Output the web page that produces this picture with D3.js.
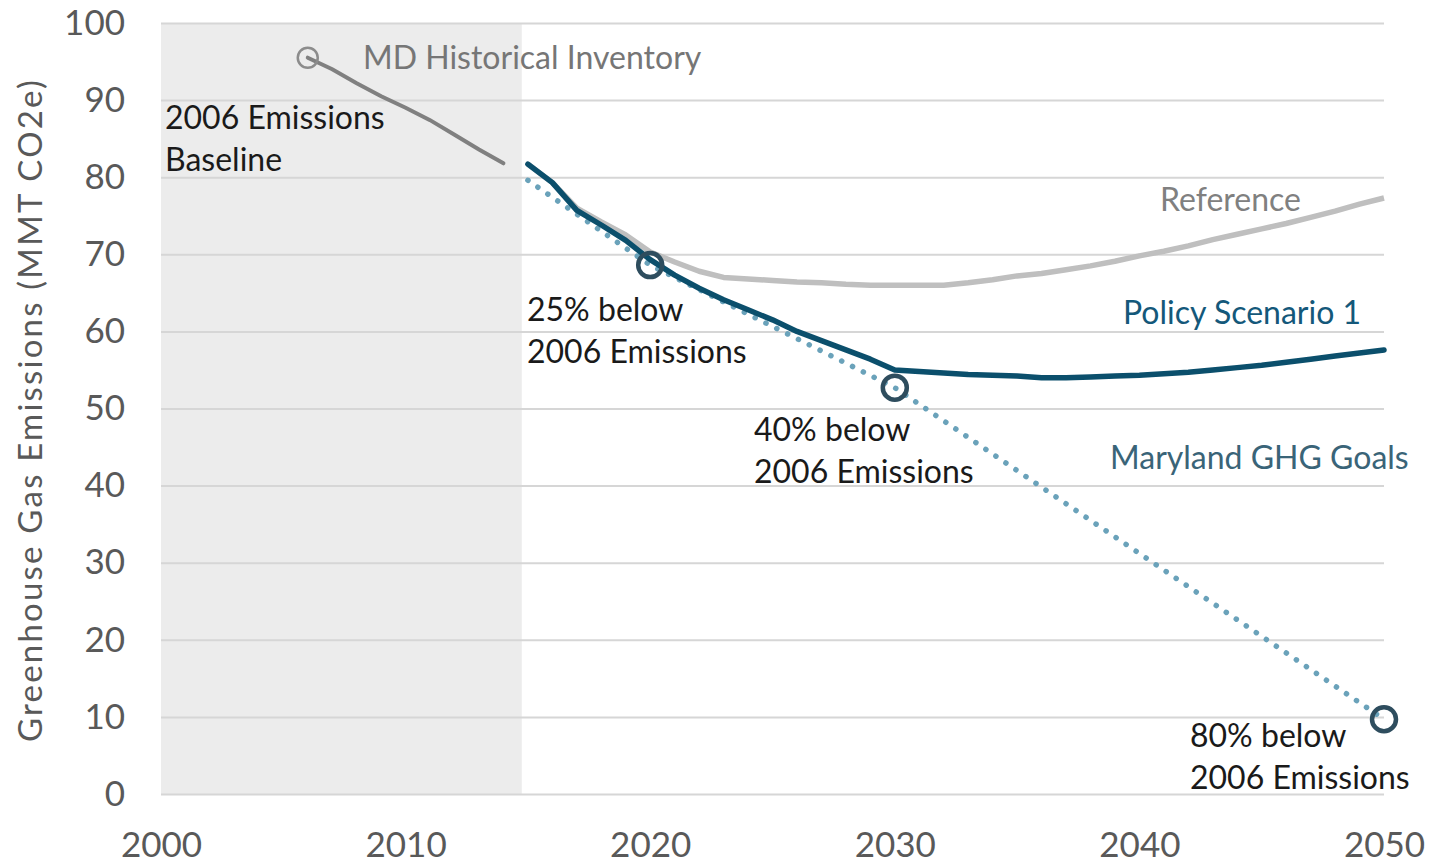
<!DOCTYPE html>
<html>
<head>
<meta charset="utf-8">
<script src="https://cdn.jsdelivr.net/npm/d3@7"></script>
<style>
  body { margin: 0; background: #fff; }
  svg text { font-family: Lato, "Open Sans", sans-serif; }
</style>
</head>
<body>
<div id="chart"></div>
<script>
// values (MMT CO2e)
var histYears = [2006, 2007, 2008, 2009, 2010, 2011, 2012, 2013, 2014];
var histValues = [95.5, 94.0, 92.2, 90.5, 89.0, 87.4, 85.5, 83.6, 81.8];

var projYears = d3.range(2015, 2051);
var referenceValues = [81.7, 79.3, 76.0, 74.2, 72.5, 70.3, 69.0, 67.8, 67.0, 66.8,
    66.6, 66.4, 66.3, 66.1, 66.0, 66.0, 66.0, 66.0, 66.3, 66.7,
    67.2, 67.5, 68.0, 68.5, 69.1, 69.8, 70.4, 71.1, 71.9, 72.6,
    73.3, 74.0, 74.8, 75.6, 76.5, 77.3];
var policyValues = [81.7, 79.3, 75.7, 73.8, 71.8, 69.3, 67.3, 65.6, 64.1, 62.8,
    61.5, 60.0, 58.8, 57.6, 56.4, 55.0, 54.8, 54.6, 54.4, 54.3,
    54.2, 54.0, 54.0, 54.1, 54.2, 54.3, 54.5, 54.7, 55.0, 55.3,
    55.6, 56.0, 56.4, 56.8, 57.2, 57.6];

var goalYears = [2015, 2020, 2030, 2050];
var goalValues = [79.6, 68.6, 52.7, 9.7];
var goalMarkerYears = [2020, 2030, 2050];

var historicalEnd = 2014.75;
var xTicks = [2000, 2010, 2020, 2030, 2040, 2050];
var yTicks = [0, 10, 20, 30, 40, 50, 60, 70, 80, 90, 100];

var W = 1431, H = 865;
var margin = { top: 23, right: 47, bottom: 71, left: 161 };
var width = W - margin.left - margin.right,
    height = H - margin.top - margin.bottom;

var svg = d3.select("#chart")
    .append("svg")
    .attr("width", W)
    .attr("height", H);
var g = svg.append("g")
    .attr("transform", "translate(" + margin.left + "," + margin.top + ")");

var x = d3.scaleLinear().domain([2000, 2050]).range([0, width]);
var y = d3.scaleLinear().domain([0, 100]).range([height, 0]);

// shaded historical period
g.append("rect")
    .attr("x", x(2000))
    .attr("y", y(100))
    .attr("width", x(historicalEnd) - x(2000))
    .attr("height", y(0) - y(100))
    .attr("fill", "#ececec");

// gridlines
var yAxis = d3.axisLeft(y).tickValues(yTicks).tickSize(-width).tickPadding(36);
g.append("g")
    .attr("class", "y axis")
    .call(yAxis)
    .call(a => a.select(".domain").remove())
    .call(a => a.selectAll("line").attr("stroke", "#d6d6d6").attr("stroke-width", 2))
    .call(a => a.selectAll("text").attr("fill", "#595959").attr("font-size", 35));

var xAxis = d3.axisBottom(x).tickValues(xTicks).tickFormat(d3.format("d")).tickSize(0).tickPadding(38);
g.append("g")
    .attr("class", "x axis")
    .attr("transform", "translate(0," + height + ")")
    .call(xAxis)
    .call(a => a.select(".domain").remove())
    .call(a => a.selectAll("text").attr("fill", "#595959").attr("font-size", 35));

svg.append("text")
    .attr("transform", "translate(42," + 410 + ") rotate(-90)")
    .attr("text-anchor", "middle")
    .attr("fill", "#595959")
    .attr("font-size", 33)
    .attr("letter-spacing", 2.2)
    .text("Greenhouse Gas Emissions (MMT CO2e)");

var line = d3.line()
    .x(d => x(d[0]))
    .y(d => y(d[1]));

// goals dotted line
g.append("path")
    .datum(d3.zip(goalYears, goalValues))
    .attr("fill", "none")
    .attr("stroke", "#6aa2ba")
    .attr("stroke-width", 5.5)
    .attr("stroke-linecap", "round")
    .attr("stroke-dasharray", "0.1 12")
    .attr("d", line);

// reference
g.append("path")
    .datum(d3.zip(projYears, referenceValues))
    .attr("fill", "none")
    .attr("stroke", "#bfbfbf")
    .attr("stroke-width", 5.5)
    .attr("stroke-linejoin", "round")
    .attr("d", line);

// policy scenario 1
g.append("path")
    .datum(d3.zip(projYears, policyValues))
    .attr("fill", "none")
    .attr("stroke", "#0b4f6c")
    .attr("stroke-width", 5.5)
    .attr("stroke-linejoin", "round")
    .attr("stroke-linecap", "round")
    .attr("d", line);

// historical inventory
g.append("path")
    .datum(d3.zip(histYears, histValues))
    .attr("fill", "none")
    .attr("stroke", "#808080")
    .attr("stroke-width", 4)
    .attr("stroke-linecap", "round")
    .attr("d", line);

g.append("circle")
    .attr("cx", x(histYears[0]))
    .attr("cy", y(histValues[0]))
    .attr("r", 10)
    .attr("fill", "none")
    .attr("stroke", "#8c8c8c")
    .attr("stroke-width", 2.5);

// goal markers
g.selectAll(".goal")
    .data(goalMarkerYears)
    .enter().append("circle")
    .attr("class", "goal")
    .attr("cx", d => x(d))
    .attr("cy", d => y(goalValues[goalYears.indexOf(d)]))
    .attr("r", 12)
    .attr("fill", "none")
    .attr("stroke", "#2e4d5e")
    .attr("stroke-width", 4.5);

// annotations
var notes = [
    { x: 363, y: 69, lines: ["MD Historical Inventory"], color: "#767676" },
    { x: 165, y: 129, lines: ["2006 Emissions", "Baseline"], color: "#1a1a1a" },
    { x: 1160, y: 211, lines: ["Reference"], color: "#808080" },
    { x: 1123, y: 324, lines: ["Policy Scenario 1"], color: "#14587a" },
    { x: 1110, y: 469, lines: ["Maryland GHG Goals"], color: "#3a6478" },
    { x: 527, y: 321, lines: ["25% below", "2006 Emissions"], color: "#1a1a1a" },
    { x: 754, y: 441, lines: ["40% below", "2006 Emissions"], color: "#1a1a1a" },
    { x: 1190, y: 747, lines: ["80% below", "2006 Emissions"], color: "#1a1a1a" }
];

notes.forEach(n => {
    var t = svg.append("text")
        .attr("x", n.x)
        .attr("y", n.y)
        .attr("fill", n.color)
        .attr("font-size", 32);
    n.lines.forEach((s, i) => {
        t.append("tspan")
            .attr("x", n.x)
            .attr("dy", i === 0 ? 0 : 42)
            .text(s);
    });
});
</script>
</body>
</html>
